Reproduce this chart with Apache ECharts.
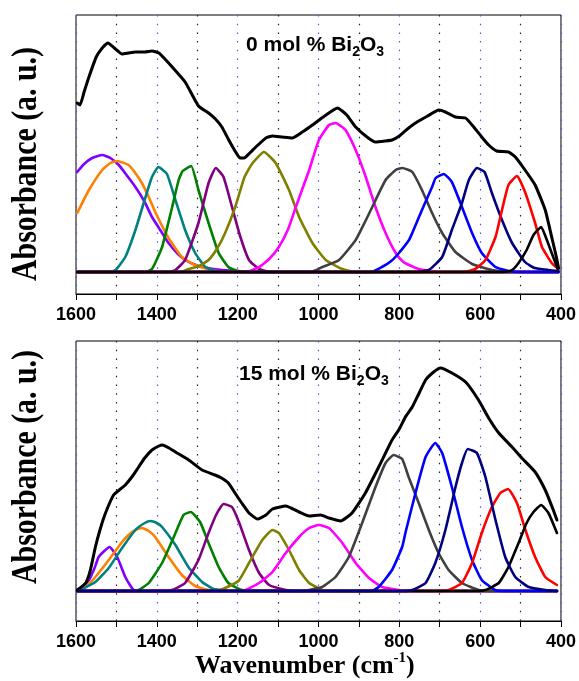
<!DOCTYPE html>
<html><head><meta charset="utf-8">
<script src="https://cdn.jsdelivr.net/npm/echarts@6/dist/echarts.min.js"></script>
<style>html,body{margin:0;padding:0;background:#fff}#c{width:579px;height:681px}</style>
</head><body><div id="c"></div>
<script>
// ---------- tick labels ----------
const xTickLabels = [1600, 1400, 1200, 1000, 800, 600, 400];
const panelTitles = ['0 mol % Bi{s|2}O{s|3}', '15 mol % Bi{s|2}O{s|3}'];

// ---------- 0 mol % Bi2O3 (top) : [wavenumber, absorbance] ----------
const tEnvelope = [[1597,1.69],[1590,1.67],[1580,1.80],[1568,1.95],[1550,2.15],[1535,2.24],[1521,2.29],[1505,2.24],[1486,2.18],[1470,2.19],[1453,2.20],[1430,2.20],[1412,2.21],[1395,2.19],[1380,2.13],[1362,2.05],[1330,1.90],[1297,1.66],[1272,1.59],[1255,1.53],[1239,1.45],[1222,1.32],[1205,1.20],[1194,1.14],[1184,1.14],[1170,1.19],[1155,1.25],[1130,1.34],[1114,1.36],[1090,1.35],[1065,1.34],[1040,1.40],[1015,1.47],[985,1.56],[953,1.64],[930,1.57],[908,1.45],[880,1.35],[859,1.30],[835,1.31],[818,1.32],[800,1.36],[780,1.43],[760,1.49],[730,1.56],[702,1.62],[686,1.60],[661,1.55],[636,1.54],[620,1.47],[596,1.35],[579,1.27],[559,1.21],[530,1.20],[513,1.15],[489,1.02],[464,0.87],[439,0.62],[423,0.35],[412,0.16],[406,0.04]];
const tViolet = [[1597,1.00],[1580,1.08],[1560,1.14],[1535,1.17],[1515,1.14],[1494,1.07],[1475,0.97],[1453,0.85],[1430,0.70],[1412,0.55],[1390,0.41],[1371,0.29],[1350,0.19],[1330,0.12],[1310,0.08],[1289,0.05],[1260,0.03],[1239,0.02],[1200,0.01],[1170,0],[406,0]];
const tOrange = [[1597,0.59],[1568,0.82],[1535,1.02],[1515,1.09],[1498,1.11],[1470,1.07],[1455,1.00],[1437,0.89],[1420,0.75],[1404,0.60],[1371,0.34],[1338,0.15],[1305,0.07],[1264,0.02],[1230,0],[406,0]];
const tTeal = [[1597,0],[1515,0],[1502,0.02],[1478,0.15],[1453,0.42],[1428,0.75],[1412,0.95],[1396,1.05],[1375,0.98],[1354,0.72],[1330,0.42],[1305,0.19],[1280,0.05],[1255,0.01],[1230,0],[406,0]];
const tGreen = [[1597,0],[1430,0],[1412,0.03],[1387,0.25],[1362,0.65],[1346,0.92],[1336,1.01],[1315,1.06],[1297,0.82],[1272,0.49],[1247,0.19],[1223,0.05],[1200,0.01],[1180,0],[406,0]];
const tPurple = [[1597,0],[1370,0],[1354,0.02],[1330,0.12],[1297,0.49],[1272,0.89],[1254,1.04],[1235,0.95],[1214,0.65],[1194,0.36],[1172,0.12],[1147,0.03],[1120,0],[406,0]];
const tOlive = [[1597,0],[1340,0],[1321,0.03],[1295,0.06],[1272,0.12],[1250,0.24],[1231,0.39],[1206,0.65],[1183,0.95],[1163,1.09],[1135,1.20],[1106,1.09],[1073,0.82],[1048,0.55],[1015,0.29],[982,0.12],[941,0.03],[910,0],[406,0]];
const tMagenta = [[1597,0],[1180,0],[1147,0.05],[1122,0.13],[1098,0.25],[1075,0.43],[1056,0.65],[1040,0.83],[1023,1.02],[999,1.32],[974,1.47],[957,1.49],[945,1.46],[933,1.42],[908,1.22],[883,0.95],[859,0.65],[834,0.39],[809,0.19],[790,0.10],[776,0.07],[752,0.03],[720,0.01],[690,0],[406,0]];
const tGrey = [[1597,0],[1020,0],[990,0.05],[949,0.12],[908,0.32],[885,0.50],[867,0.65],[834,0.92],[809,1.02],[793,1.04],[768,1.00],[744,0.82],[719,0.59],[694,0.39],[661,0.20],[620,0.08],[571,0.02],[530,0],[406,0]];
const tBlue = [[1597,0],[870,0],[843,0.05],[820,0.11],[801,0.19],[776,0.32],[768,0.39],[744,0.62],[719,0.85],[710,0.94],[690,0.98],[670,0.90],[645,0.65],[620,0.39],[596,0.19],[562,0.05],[530,0.01],[500,0],[406,0]];
const tNavy = [[1597,0],[760,0],[727,0.02],[694,0.15],[670,0.42],[645,0.69],[628,0.92],[608,1.04],[589,1.00],[571,0.79],[546,0.52],[521,0.29],[489,0.10],[465,0.04],[430,0.02],[406,0.01]];
const tRed = [[1597,0],[640,0],[612,0.03],[587,0.12],[562,0.35],[546,0.62],[530,0.87],[509,0.96],[489,0.80],[464,0.49],[447,0.25],[423,0.09],[406,0.03]];
const tBlack = [[1597,0],[540,0],[521,0.02],[505,0.09],[485,0.22],[468,0.37],[449,0.45],[435,0.32],[423,0.19],[408,0.03]];

// ---------- 15 mol % Bi2O3 (bottom) ----------
const bEnvelope = [[1597,0.01],[1576,0.08],[1565,0.20],[1552,0.44],[1540,0.62],[1527,0.78],[1507,0.96],[1490,1.02],[1478,1.06],[1460,1.15],[1445,1.24],[1430,1.33],[1412,1.41],[1395,1.45],[1386,1.46],[1370,1.43],[1354,1.39],[1321,1.31],[1288,1.21],[1256,1.16],[1240,1.13],[1223,1.08],[1205,0.97],[1190,0.88],[1172,0.78],[1151,0.72],[1130,0.76],[1114,0.82],[1081,0.85],[1048,0.79],[1023,0.75],[995,0.76],[974,0.73],[945,0.70],[917,0.78],[884,0.98],[851,1.24],[818,1.51],[800,1.62],[785,1.74],[768,1.84],[752,1.97],[735,2.11],[715,2.19],[698,2.23],[670,2.18],[636,2.09],[604,1.91],[579,1.73],[554,1.58],[521,1.44],[497,1.33],[464,1.19],[439,1.01],[420,0.82],[410,0.71]];
const bViolet = [[1597,0.01],[1585,0.04],[1568,0.11],[1555,0.22],[1544,0.34],[1530,0.40],[1517,0.44],[1498,0.34],[1478,0.14],[1465,0.05],[1457,0.01],[1440,0],[410,0]];
const bOrange = [[1597,0.01],[1576,0.04],[1552,0.14],[1519,0.31],[1486,0.49],[1470,0.56],[1453,0.61],[1437,0.63],[1420,0.60],[1404,0.54],[1371,0.34],[1338,0.16],[1305,0.05],[1272,0.01],[1240,0],[410,0]];
const bTeal = [[1597,0],[1585,0.02],[1552,0.09],[1519,0.23],[1486,0.43],[1453,0.61],[1430,0.68],[1416,0.70],[1400,0.68],[1387,0.64],[1354,0.46],[1322,0.24],[1288,0.09],[1260,0.02],[1240,0.01],[1220,0],[410,0]];
const bGreen = [[1597,0],[1460,0],[1445,0.01],[1420,0.08],[1387,0.28],[1358,0.54],[1334,0.76],[1316,0.79],[1293,0.69],[1272,0.48],[1247,0.24],[1223,0.08],[1190,0.01],[1170,0],[410,0]];
const bPurple = [[1597,0],[1380,0],[1362,0.01],[1330,0.08],[1297,0.31],[1272,0.58],[1251,0.78],[1235,0.87],[1214,0.84],[1196,0.68],[1172,0.41],[1147,0.18],[1122,0.06],[1081,0.01],[1060,0],[410,0]];
const bOlive = [[1597,0],[1250,0],[1231,0.03],[1198,0.10],[1172,0.28],[1139,0.51],[1114,0.61],[1098,0.58],[1073,0.41],[1048,0.21],[1023,0.08],[991,0.01],[970,0],[410,0]];
const bMagenta = [[1597,0],[1200,0],[1180,0.01],[1147,0.08],[1114,0.19],[1081,0.38],[1048,0.54],[1023,0.63],[999,0.66],[974,0.63],[941,0.48],[908,0.28],[875,0.13],[843,0.04],[801,0.01],[780,0],[410,0]];
const bGrey = [[1597,0],[1040,0],[1023,0.01],[991,0.04],[958,0.14],[925,0.34],[892,0.68],[859,1.04],[834,1.28],[814,1.36],[793,1.32],[777,1.14],[752,0.88],[727,0.61],[703,0.38],[678,0.21],[645,0.08],[604,0.01],[580,0],[410,0]];
const bBlue = [[1597,0],[870,0],[851,0.04],[818,0.21],[793,0.44],[785,0.58],[760,0.98],[735,1.34],[711,1.48],[694,1.38],[670,1.04],[645,0.64],[620,0.31],[596,0.11],[563,0.01],[540,0],[410,0]];
const bNavy = [[1597,0],[790,0],[768,0.01],[735,0.08],[711,0.28],[686,0.61],[661,1.04],[645,1.28],[631,1.42],[608,1.38],[587,1.14],[562,0.71],[538,0.34],[513,0.14],[480,0.04],[439,0.01],[410,0]];
const bRed = [[1597,0],[700,0],[678,0.01],[645,0.08],[620,0.28],[596,0.58],[571,0.84],[550,0.98],[531,1.02],[509,0.88],[488,0.61],[464,0.34],[439,0.14],[410,0.06]];
const bBlack = [[1597,0],[610,0],[587,0.01],[554,0.08],[530,0.24],[505,0.48],[485,0.68],[468,0.79],[449,0.86],[431,0.78],[410,0.58]];

// ---------- styling ----------
const C = {violet:'#8000ff', orange:'#ff8000', teal:'#008080', green:'#008000', purple:'#800080', olive:'#808000', magenta:'#ff00ff', grey:'#404040', blue:'#0000ff', navy:'#000080', red:'#ff0000', black:'#000000'};
const topSet = [[tViolet,C.violet],[tOrange,C.orange],[tTeal,C.teal],[tGreen,C.green],[tPurple,C.purple],[tOlive,C.olive],[tMagenta,C.magenta],[tGrey,C.grey],[tBlue,C.blue],[tNavy,C.navy],[tRed,C.red],[tBlack,C.black],[tEnvelope,C.black]];
const botSet = [[bViolet,C.violet],[bOrange,C.orange],[bTeal,C.teal],[bGreen,C.green],[bPurple,C.purple],[bOlive,C.olive],[bMagenta,C.magenta],[bGrey,C.grey],[bBlue,C.blue],[bRed,C.red],[bBlack,C.black],[bNavy,C.navy],[bEnvelope,C.black]];

function mkSeries(set, idx){
  return set.map(([d,c],i)=>({
    type:'line', xAxisIndex:idx, yAxisIndex:idx, data:d, showSymbol:false, symbol:'none',
    smooth:0.15, lineStyle:{color:c, width:(i===set.length-1)?3:2.6, join:'round', cap:'round'},
    silent:true, animation:false, z:2+i
  }));
}

function mkX(idx){
  return {
    gridIndex:idx, type:'value', min:400, max:1600, interval:100, inverse:true,
    axisLine:{show:true, onZero:false, lineStyle:{color:'#000', width:1}},
    axisTick:{show:true, inside:false, length:6, lineStyle:{color:'#000', width:1}},
    axisLabel:{show:true, margin:12, color:'#000', fontFamily:'"Liberation Sans", Arial, sans-serif', fontWeight:'bold', fontSize:18,
      formatter:v=> xTickLabels.includes(v) ? String(v) : ''},
    splitLine:{show:true, lineStyle:{color:['#5050ff','#222222'], width:1.2, type:[1.5,7.2]}}
  };
}

const titleRich = {s:{fontFamily:'"Liberation Sans", Arial, sans-serif', fontWeight:'bold', fontSize:14, lineHeight:8, verticalAlign:'bottom', fill:'#000'}};
const chart = echarts.init(document.getElementById('c'), null, {renderer:'canvas'});
chart.setOption({
  animation:false,
  backgroundColor:'#fff',
  grid:[
    {left:76, width:486, top:15, height:279, show:true, borderColor:'#000', borderWidth:1, backgroundColor:'transparent'},
    {left:76, width:486, top:341, height:280, show:true, borderColor:'#000', borderWidth:1, backgroundColor:'transparent'}
  ],
  xAxis:[mkX(0), mkX(1)],
  yAxis:[
    {gridIndex:0, type:'value', min:-0.22, max:2.57, show:false},
    {gridIndex:1, type:'value', min:-0.30, max:2.50, show:false}
  ],
  series:[...mkSeries(topSet,0), ...mkSeries(botSet,1)],
  graphic:[
    {type:'text', x:27, y:164, rotation:Math.PI/2, scaleX:0.83, z:100,
     style:{text:'Absorbance (a. u.)', font:'bold 36px "Liberation Serif", "Times New Roman", serif', fill:'#000', textAlign:'center', textVerticalAlign:'middle', align:'center', verticalAlign:'middle'}},
    {type:'text', x:27, y:467, rotation:Math.PI/2, scaleX:0.83, z:100,
     style:{text:'Absorbance (a. u.)', font:'bold 36px "Liberation Serif", "Times New Roman", serif', fill:'#000', textAlign:'center', textVerticalAlign:'middle', align:'center', verticalAlign:'middle'}},
    {type:'text', x:246, y:31, z:100,
     style:{text:panelTitles[0], font:'bold 21px "Liberation Sans", Arial, sans-serif', lineHeight:28, fill:'#000', rich:titleRich, textAlign:'left', textVerticalAlign:'top', align:'left', verticalAlign:'top'}},
    {type:'text', x:239, y:360, z:100,
     style:{text:panelTitles[1], font:'bold 21px "Liberation Sans", Arial, sans-serif', lineHeight:28, fill:'#000', rich:titleRich, textAlign:'left', textVerticalAlign:'top', align:'left', verticalAlign:'top'}},
    {type:'text', x:195, y:651, z:100,
     style:{text:'Wavenumber (cm{p|-1})', font:'bold 26px "Liberation Serif", "Times New Roman", serif', lineHeight:30, fill:'#000',
       rich:{p:{fontFamily:'"Liberation Serif", serif', fontWeight:'bold', fontSize:15, lineHeight:20, verticalAlign:'top', fill:'#000'}},
       textAlign:'left', textVerticalAlign:'top', align:'left', verticalAlign:'top'}}
  ]
});
</script>
</body></html>
